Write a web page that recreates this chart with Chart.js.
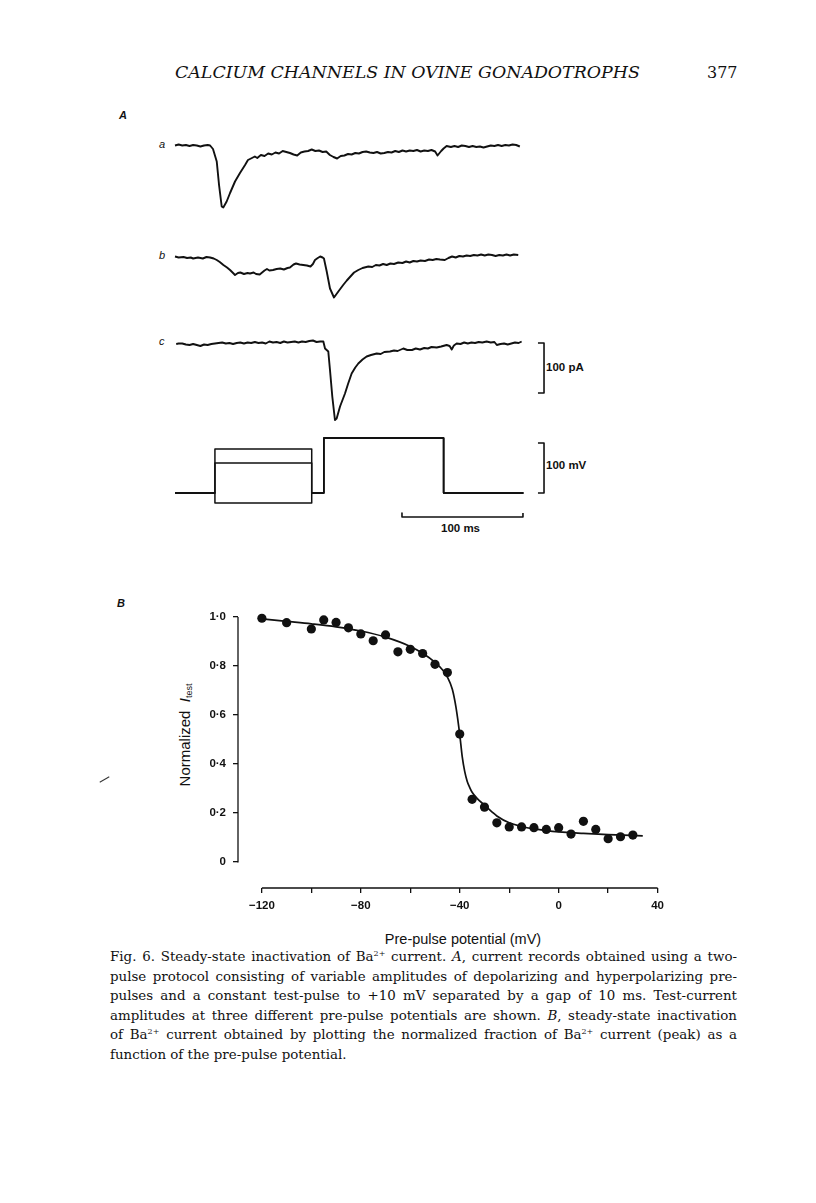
<!DOCTYPE html>
<html>
<head>
<meta charset="utf-8">
<script src="https://cdn.jsdelivr.net/npm/chart.js@4.4.1/dist/chart.umd.min.js"></script>
<style>
html, body { margin: 0; padding: 0; background: #fff; }
body { width: 816px; height: 1203px; position: relative; overflow: hidden; color: #111;
       font-family: "Liberation Sans", Arial, sans-serif; }
.abs { position: absolute; white-space: nowrap; }
canvas { position: absolute; }
#head { left: 175px; top: 63px; font: italic 16px "DejaVu Serif", serif; transform-origin: 0 0; }
#pageno { left: 707px; top: 63px; font: 16px "DejaVu Serif", serif; }
.plab { font: italic bold 11px "Liberation Sans", Arial, sans-serif; }
.tlab { font: italic 11px "Liberation Sans", Arial, sans-serif; }
.sbar { font: bold 11.5px "Liberation Sans", Arial, sans-serif; }
#ytitle { left: 185px; top: 735px; font: 15px "Liberation Sans", Arial, sans-serif;
          transform: translate(-50%, -50%) rotate(-90deg); }
#ytitle sub { font-size: 9px; vertical-align: -2px; }
#xtitle { left: 463px; top: 939px; transform: translate(-50%, -50%); font: 14.5px "Liberation Sans", Arial, sans-serif; }
.cap { left: 110px; width: 627px; font: 13.4px "DejaVu Serif", serif; text-align: justify; text-align-last: justify;
       transform-origin: 0 0; }
.cap sup { font-size: 8px; vertical-align: 5px; line-height: 0; }
#stray { left: 99px; top: 779px; width: 11px; height: 1px; background: #333; transform: rotate(-30deg); }
</style>
</head>
<body>
<div class="abs" id="head">CALCIUM CHANNELS IN OVINE GONADOTROPHS</div>
<div class="abs" id="pageno">377</div>

<div class="abs plab" style="left:119px;top:109px">A</div>
<div class="abs tlab" style="left:159px;top:138px">a</div>
<div class="abs tlab" style="left:159px;top:249px">b</div>
<div class="abs tlab" style="left:159px;top:335px">c</div>
<div class="abs sbar" style="left:546px;top:361px">100 pA</div>
<div class="abs sbar" style="left:546px;top:459px">100 mV</div>
<div class="abs sbar" style="left:441px;top:522px">100 ms</div>

<div class="abs plab" style="left:117px;top:597px">B</div>
<div class="abs" id="ytitle">Normalized&nbsp; <i>I</i><sub>test</sub></div>
<div class="abs" id="xtitle">Pre-pulse potential (mV)</div>
<div class="abs" id="stray"></div>

<canvas id="traces" width="460" height="440" style="left:160px;top:110px"></canvas>
<canvas id="inact" width="500" height="330" style="left:170px;top:600px"></canvas>

<div class="abs cap" style="top:949px">Fig. 6. Steady-state inactivation of Ba<sup>2+</sup> current. <i>A</i>, current records obtained using a two-</div>
<div class="abs cap" style="top:968.5px">pulse protocol consisting of variable amplitudes of depolarizing and hyperpolarizing pre-</div>
<div class="abs cap" style="top:988px">pulses and a constant test-pulse to +10 mV separated by a gap of 10 ms. Test-current</div>
<div class="abs cap" style="top:1007.5px">amplitudes at three different pre-pulse potentials are shown. <i>B</i>, steady-state inactivation</div>
<div class="abs cap" style="top:1027px">of Ba<sup>2+</sup> current obtained by plotting the normalized fraction of Ba<sup>2+</sup> current (peak) as a</div>
<div class="abs cap" style="top:1046.5px;text-align-last:left">function of the pre-pulse potential.</div>

<script>
// ---- panel A: current records (time in ms, current in pA) ----
var tA = [0,3,6,9,12,15,18,21,24,27,29,31.4,34.5,36.4,38.6,39.9,42.7,45.5,49.6,53.7,57.9,60.3,63.6,66,68,71,74,77,80,83,86,89,92,95,98,101,104,107,110,113,116,119,122,125,128,131,134,137,140,143,146,149,152,155,158,161,164,167,170,173,176,179,182,185,188,191,194,197,200,203,206,209,212,215,217,220,222,224.5,228,231,234,237,240,243,246,249,252,255,258,261,264,267,270,273,276,279,282,285];
var iA = [-1,1,-1,0,-2,0,-1,-3,-1,0,-1,-8,-33,-80,-123,-125,-113,-96,-73,-56,-40,-30,-26,-23,-26,-20,-22,-17,-19,-15,-17,-12,-14,-16,-19,-21,-15,-13,-12,-9,-12,-11,-14,-13,-20,-24,-27,-22,-21,-18,-19,-16,-17,-14,-13,-15,-16,-14,-17,-16,-14,-15,-12,-14,-11,-13,-11,-12,-10,-13,-11,-12,-10,-13,-21,-12,-7,-2,-4,-2,-4,-1,-2,-4,-2,-4,-3,-5,-3,-1,-2,0,-2,0,-1,1,0,-3];

var tB = [0,3,7,10,13,15,19,23,26,29,32,34.5,37,40,43,45.5,48,49.6,52,54,57,60,62,65,67,70,72,74,76,78,81,84,87,90,93,95,98,100,103,106,109,112,114,115.7,118,120,122,123.1,125.4,128.1,131.4,135,139,142,144.6,148,151.5,155,159.8,163,166,169,172,175,178,181,184.5,188,191,194,197,200,203,206.6,210,213,216,219,223,226,229,232,235,238,241,244,247,250,253,256,259,262,265,268,271,274,277,280,283.7];
var iB = [1,-1,0,-2,-1,-3,-1,-3,0,-1,-3,-6,-10,-16,-21,-26,-32,-36,-32,-31,-34,-32,-33,-31,-34,-35,-31,-27,-24,-27,-26,-24,-23,-25,-22,-21,-15,-13,-15,-16,-17,-19,-14,-6,-2,1,-1,-3,-29,-63,-81,-69,-56,-47,-40,-31,-26,-22,-19,-20,-16,-17,-14,-16,-13,-14,-11,-12,-9,-11,-8,-9,-7,-8,-5,-6,-4,-5,-6,-2,1,-1,2,1,3,2,4,3,5,3,5,4,2,4,3,5,3,5,4];

var tC = [1,3,6,9,12,15,18,21,24,27,30,33,36,39,42,45,48,51,54,57,60,63,66,69,72,75,78,81,84,87,90,93,96,99,102,105,108,111,114,117,120,122.6,124,126.7,128.1,130,132.2,133.6,136.4,140.5,143,146,149,151.5,155,158.4,162,166.7,170,173,177.7,181,184,188.7,192,195.9,199,202.5,206,209,212,216.3,220,224.5,227,228.7,230.5,232.8,236,239,242,245,248,251,254,257.6,261,264,266,269,272,275,278,281,284,286.5];
var iC = [-2,-1,-1,-3,-4,-2,-4,-6,-3,-4,-2,-1,0,1,-1,0,-2,0,1,-1,1,0,2,0,1,-1,3,1,2,0,3,1,2,3,1,3,2,4,5,2,3,3,-11,-17,-54,-107,-154,-151,-127,-101,-82,-61,-49,-41,-33,-27,-24,-21,-22,-18,-17,-15,-16,-11,-14,-14,-11,-13,-10,-11,-8,-9,-7,-4,-6,-13,-5,-1,-2,1,-1,1,0,2,1,3,1,2,-4,-2,-1,-3,-1,1,0,3];

// voltage protocol (mV): pre-pulse then test pulse
var protoEdges = [0, 33, 113, 123, 222, 288];
var vHold = -100, vTest = 10;
var prePulses = [-12, -40, -120];

// calibration bars
var pABar = [[300, 0], [305, 0], [305, -100], [300, -100]];
var mVBar = [[300, 0], [305, 0], [305, -100], [300, -100]];
var msBar = [[187.6, -140], [187.6, -148], [287.6, -148], [287.6, -140]];

// ---- panel B: steady-state inactivation ----
var vPre = [-120,-110,-100,-95,-90,-85,-80,-75,-70,-65,-60,-55,-50,-45,-40,-35,-30,-25,-20,-15,-10,-5,0,5,10,15,20,25,30];
var iNorm = [0.995,0.977,0.951,0.988,0.978,0.956,0.931,0.903,0.927,0.858,0.868,0.851,0.807,0.773,0.522,0.256,0.224,0.160,0.143,0.143,0.140,0.133,0.140,0.114,0.166,0.133,0.095,0.103,0.110];
var vFit = [-120,-110,-100,-90,-80,-70,-60,-55,-50,-47,-45,-43,-41.5,-40,-39,-38,-37,-36,-35,-33,-30,-27,-25,-20,-15,-10,-5,0,10,20,34];
var iFit = [0.992,0.982,0.972,0.960,0.943,0.918,0.880,0.852,0.815,0.785,0.755,0.705,0.63,0.52,0.43,0.37,0.33,0.305,0.285,0.26,0.232,0.205,0.188,0.160,0.145,0.135,0.128,0.123,0.117,0.112,0.107];
var xTicks = [-120,-100,-80,-60,-40,-20,0,20,40];
var yTicks = [0,0.2,0.4,0.6,0.8,1.0];

function pts(t, v) {
    return t.map(function(x, i) { return {x: x, y: v[i]}; });
}
function pairs(arr) {
    return arr.map(function(p) { return {x: p[0], y: p[1]}; });
}
function protocol(pre) {
    var e = protoEdges;
    // stepped 'before': each point holds the previous level until its x
    return [{x: e[0], y: vHold}, {x: e[1], y: pre}, {x: e[2], y: vHold},
            {x: e[3], y: vTest}, {x: e[4], y: vHold}, {x: e[5], y: vHold}];
}
// squeeze/stretch a text line to the width it has on the printed page
function fitWidth(el, w) {
    el.style.width = 'auto';
    var nat = el.scrollWidth;
    el.style.width = w + 'px';
    if (nat > w) el.style.transform = 'scaleX(' + (w / nat) + ')', el.style.width = nat + 'px';
}

var ink = '#111';

var traceSets = [
    {data: pts(tA, iA), yAxisID: 'ya', borderWidth: 1.9},
    {data: pts(tB, iB), yAxisID: 'yb', borderWidth: 1.9},
    {data: pts(tC, iC), yAxisID: 'yc', borderWidth: 1.9},
    {data: pairs(pABar), yAxisID: 'yc', borderWidth: 1.6},
    {data: pairs(mVBar), yAxisID: 'yv', borderWidth: 1.6},
    {data: pairs(msBar), yAxisID: 'yv', borderWidth: 1.6}
];
prePulses.forEach(function(p) {
    traceSets.push({data: protocol(p), yAxisID: 'yv', borderWidth: 1.5, stepped: true});
});

new Chart(document.getElementById('traces'), {
    type: 'line',
    data: {datasets: traceSets},
    options: {
        responsive: false,
        animation: false,
        events: [],
        plugins: {legend: {display: false}, tooltip: {enabled: false}},
        elements: {
            point: {radius: 0},
            line: {borderColor: ink, tension: 0, fill: false, borderJoinStyle: 'round'}
        },
        scales: {
            x: {type: 'linear', display: false, min: -12.4, max: 367.8},
            ya: {display: false, min: -810, max: 70},
            yb: {display: false, min: -586, max: 294},
            yc: {display: false, min: -414, max: 466},
            yv: {display: false, min: -214, max: 666}
        }
    }
});

// axis lines only over the data range, like the original
var detachedAxes = {
    id: 'detachedAxes',
    afterDraw: function(chart) {
        var ctx = chart.ctx, x = chart.scales.x, y = chart.scales.y, area = chart.chartArea;
        ctx.save();
        ctx.strokeStyle = ink;
        ctx.lineWidth = 1.3;
        ctx.beginPath();
        ctx.moveTo(area.left, y.getPixelForValue(0) + 0.5);
        ctx.lineTo(area.left, y.getPixelForValue(1));
        ctx.moveTo(x.getPixelForValue(-120), area.bottom);
        ctx.lineTo(x.getPixelForValue(40), area.bottom);
        ctx.stroke();
        ctx.restore();
    }
};

var tickFont = {family: '"Liberation Sans", Arial, sans-serif', size: 11.5, weight: 'bold'};

new Chart(document.getElementById('inact'), {
    type: 'scatter',
    data: {
        datasets: [
            {data: pts(vPre, iNorm), pointRadius: 4.6, pointBackgroundColor: ink,
             pointBorderWidth: 0, showLine: false, clip: false},
            {data: pts(vFit, iFit), showLine: true, pointRadius: 0, borderColor: ink,
             borderWidth: 1.7, cubicInterpolationMode: 'monotone', clip: false}
        ]
    },
    options: {
        responsive: false,
        animation: false,
        events: [],
        layout: {padding: {top: 17, right: 10.5, left: 0, bottom: 0}},
        plugins: {legend: {display: false}, tooltip: {enabled: false}},
        scales: {
            x: {
                type: 'linear', min: -129.66, max: 40,
                afterFit: function(s) { s.height = 42; },
                afterBuildTicks: function(s) { s.ticks = xTicks.map(function(v) { return {value: v}; }); },
                border: {display: false},
                grid: {drawOnChartArea: false, drawTicks: true, tickLength: 5, color: ink, lineWidth: 1.3},
                ticks: {
                    color: ink, font: tickFont, padding: 6, maxRotation: 0, autoSkip: false,
                    callback: function(v) {
                        if (v % 40 !== 0) return '';
                        return v < 0 ? '\u2212' + Math.abs(v) : String(v);
                    }
                }
            },
            y: {
                min: -0.1061, max: 1.0,
                afterFit: function(s) { s.width = 68; },
                afterBuildTicks: function(s) { s.ticks = yTicks.map(function(v) { return {value: v}; }); },
                border: {display: false},
                grid: {drawOnChartArea: false, drawTicks: true, tickLength: 5, color: ink, lineWidth: 1.3},
                ticks: {
                    color: ink, font: tickFont, padding: 7,
                    callback: function(v) { return v === 0 ? '0' : v.toFixed(1).replace('.', '\u00b7'); }
                }
            }
        }
    },
    plugins: [detachedAxes]
});

// running head spans 175..640 on the page
(function() {
    var h = document.getElementById('head');
    h.style.transform = 'scaleX(' + (465 / h.offsetWidth) + ')';
    var caps = document.querySelectorAll('.cap');
    for (var i = 0; i < caps.length; i++) fitWidth(caps[i], 627);
})();
</script>
</body>
</html>
